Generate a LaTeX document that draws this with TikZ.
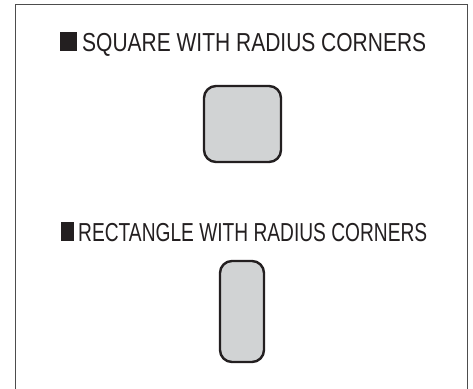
\documentclass[tikz,border=0pt]{standalone}
\usepackage{fontspec}
\setmainfont{Liberation Sans}
\definecolor{shapefill}{HTML}{D1D3D4}
\definecolor{shapeline}{HTML}{231F20}
\definecolor{framecol}{HTML}{4D4D4D}
\tikzset{
  rshape/.style={draw=shapeline, fill=shapefill, line width=2.4pt, rounded corners=12pt},
  title/.style={anchor=base west, inner sep=0pt, font=\fontsize{26}{26}\selectfont, text=shapeline}
}
\newcommand{\mytitle}[4]{\textcolor{shapeline}{\rule{#1}{19pt}}\hspace{#2}\resizebox{#3}{\height}{#4}}
\begin{document}
\begin{tikzpicture}[x=1pt,y=-1pt]
\useasboundingbox (0,0) rectangle (473,388);
\fill[white] (0,0) rectangle (473,388);
\draw[framecol, line width=1pt] (15,395) -- (15,4.5) -- (467,4.5) -- (467,395);
\node[title] (t1) at (60,51) {\mytitle{17pt}{5pt}{344pt}{SQUARE WITH RADIUS CORNERS}};
\node[rshape, minimum width=77pt, minimum height=76pt] (sq) at (242.5,124) {};
\node[title] (t2) at (61,241) {\mytitle{13pt}{4pt}{349pt}{RECTANGLE WITH RADIUS CORNERS}};
\node[rshape, minimum width=44pt, minimum height=101pt] (rc) at (242,311.5) {};
\end{tikzpicture}
\end{document}
